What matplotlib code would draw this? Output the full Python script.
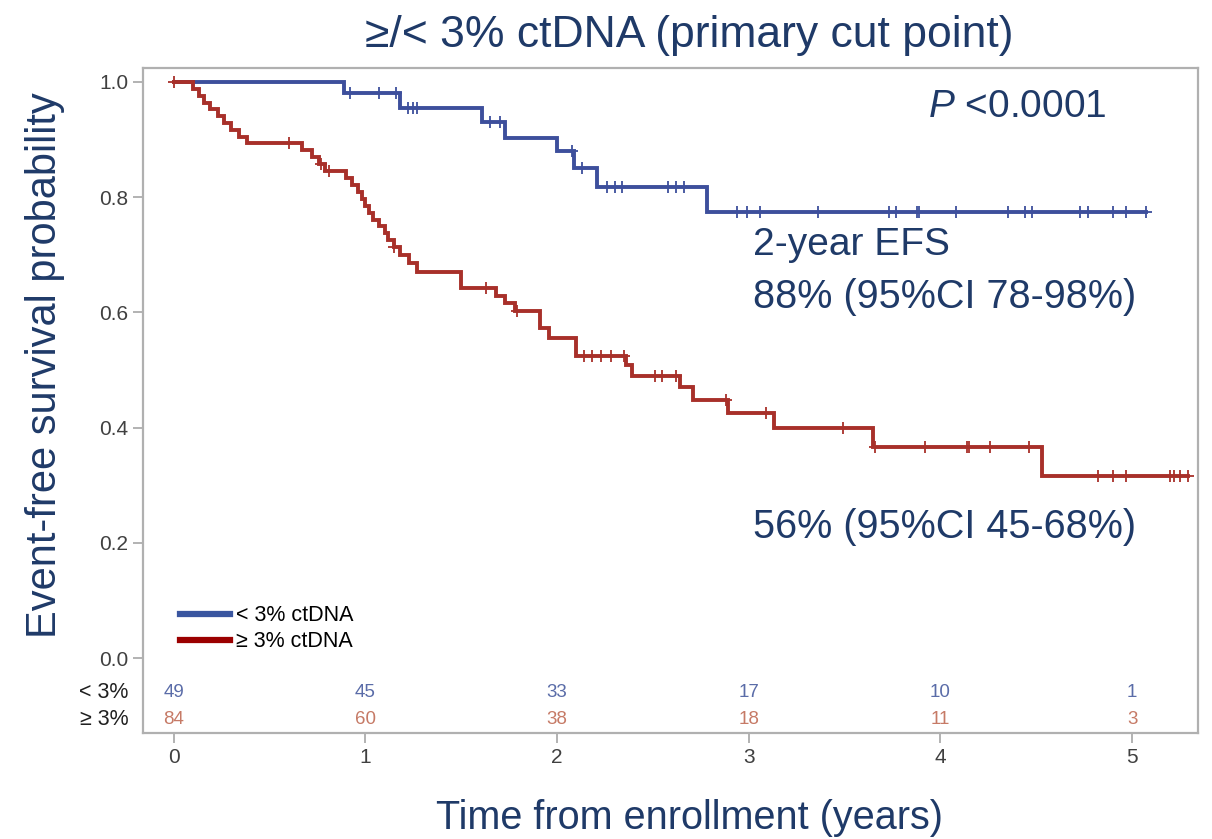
import numpy as np
import matplotlib
matplotlib.use("Agg")
import matplotlib.pyplot as plt
from matplotlib.lines import Line2D

plt.rcParams["font.family"] = ["Liberation Sans", "DejaVu Sans"]
plt.rcParams["mathtext.fontset"] = "custom"
plt.rcParams["mathtext.it"] = "Liberation Sans:italic"
plt.rcParams["mathtext.rm"] = "Liberation Sans"

# Kaplan-Meier steps: time of each drop and survival after it
low_times = [0.0, 0.89, 1.18, 1.61, 1.73, 2.00, 2.09, 2.21, 2.78]
low_surv = [1.0, 0.980, 0.955, 0.930, 0.903, 0.880, 0.850, 0.818, 0.774]
low_end = 5.07
low_censor = [0.92, 1.07, 1.16, 1.22, 1.25, 1.27, 1.65, 1.70, 2.08, 2.13, 2.26, 2.30,
              2.34, 2.58, 2.62, 2.66, 2.94, 2.99, 3.06, 3.36, 3.73, 3.77, 3.88, 3.89,
              4.08, 4.35, 4.44, 4.48, 4.73, 4.77, 4.90, 4.97, 5.07]

high_times = [0.0, 0.10, 0.13, 0.16, 0.19, 0.23, 0.26, 0.30, 0.34, 0.38, 0.67, 0.72,
              0.76, 0.79, 0.90, 0.93, 0.96, 0.98, 1.00, 1.02, 1.04, 1.07, 1.10, 1.12,
              1.15, 1.18, 1.23, 1.27, 1.50, 1.68, 1.73, 1.78, 1.91, 1.96, 2.10, 2.36,
              2.39, 2.64, 2.71, 2.89, 3.13, 3.65, 4.53]
high_surv = [1.0, 0.988, 0.976, 0.964, 0.952, 0.940, 0.929, 0.917, 0.905, 0.893, 0.881,
             0.869, 0.857, 0.845, 0.833, 0.821, 0.809, 0.797, 0.785, 0.773, 0.761,
             0.749, 0.737, 0.725, 0.713, 0.700, 0.685, 0.670, 0.642, 0.629, 0.616,
             0.602, 0.573, 0.556, 0.525, 0.508, 0.490, 0.470, 0.448, 0.425, 0.399,
             0.366, 0.316]
high_end = 5.29
high_censor = [0.0, 0.60, 0.77, 0.81, 1.15, 1.63, 1.79, 2.14, 2.18, 2.23, 2.28, 2.35,
               2.51, 2.55, 2.62, 2.88, 3.09, 3.49, 3.66, 3.92, 4.14, 4.15, 4.26, 4.46,
               4.82, 4.90, 4.97, 5.20, 5.22, 5.25, 5.29]

# numbers at risk
risk_years = [0, 1, 2, 3, 4, 5]
risk_low = [49, 45, 33, 17, 10, 1]
risk_high = [84, 60, 38, 18, 11, 3]

blue = "#3d4f9c"
red = "#a8302a"
navy = "#1f3a68"


def km_at(times, surv, t):
    idx = np.searchsorted(times, t, side="right") - 1
    return np.asarray(surv)[idx]


fig = plt.figure(figsize=(12.12, 8.39), dpi=100)
ax = fig.add_axes([0.118, 0.1263, 0.8705, 0.7927])

for times, surv, end, cens, col in [(low_times, low_surv, low_end, low_censor, blue),
                                    (high_times, high_surv, high_end, high_censor, red)]:
    xs = list(times) + [end]
    ys = list(surv) + [surv[-1]]
    ax.step(xs, ys, where="post", color=col, lw=2.8, solid_joinstyle="miter")
    ax.plot(cens, km_at(times, surv, cens), ls="none", marker="+", color=col,
            markersize=9, mew=1.3)

ax.set_xlim(-0.16, 5.344)
ax.set_ylim(-0.13, 1.024)
ax.set_yticks([0.0, 0.2, 0.4, 0.6, 0.8, 1.0])
ax.set_yticklabels(["0.0", "0.2", "0.4", "0.6", "0.8", "1.0"])
ax.set_xticks(risk_years)
for s in ax.spines.values():
    s.set_color("#b0b0b0")
    s.set_linewidth(1.6)
ax.tick_params(colors="#a6a6a6", labelcolor="#404040", labelsize=15, length=7, width=1.2)

# numbers at risk inside the frame
for x, a, b in zip(risk_years, risk_low, risk_high):
    ax.text(x, -0.059, str(a), color="#5a6ca8", fontsize=13.5, ha="center", va="center")
    ax.text(x, -0.106, str(b), color="#c67a66", fontsize=13.5, ha="center", va="center")
ax.text(-0.014, -0.059, "< 3%", transform=ax.get_yaxis_transform(), ha="right",
        va="center", fontsize=15.5, color="#202020")
ax.text(-0.014, -0.106, "≥ 3%", transform=ax.get_yaxis_transform(), ha="right",
        va="center", fontsize=15.5, color="#202020")

handles = [Line2D([], [], color="#3a56a0", lw=4.5), Line2D([], [], color="#9b0000", lw=4.5)]
ax.legend(handles, ["< 3% ctDNA", "≥ 3% ctDNA"], loc="lower left",
          bbox_to_anchor=(0.025, 0.105), frameon=False, fontsize=15.5,
          handlelength=2.3, handletextpad=0.3, labelspacing=0.25, borderpad=0)

ax.text(3.935, 0.957, r"$\it{P}$ <0.0001", color=navy, fontsize=28, va="center")
ax.text(3.02, 0.717, "2-year EFS", color=navy, fontsize=28, va="center")
ax.text(3.02, 0.627, "88% (95%CI 78-98%)", color=navy, fontsize=28.5, va="center")
ax.text(3.02, 0.227, "56% (95%CI 45-68%)", color=navy, fontsize=28.5, va="center")

fig.text(0.569, 0.958, "≥/< 3% ctDNA (primary cut point)", color=navy, fontsize=32,
         ha="center", va="center")
fig.text(0.569, 0.025, "Time from enrollment (years)", color=navy, fontsize=28.5,
         ha="center", va="center")
fig.text(0.037, 0.565, "Event-free survival probability", color=navy, fontsize=30,
         ha="center", va="center", rotation=90)

fig.savefig("out.png", dpi=100)
